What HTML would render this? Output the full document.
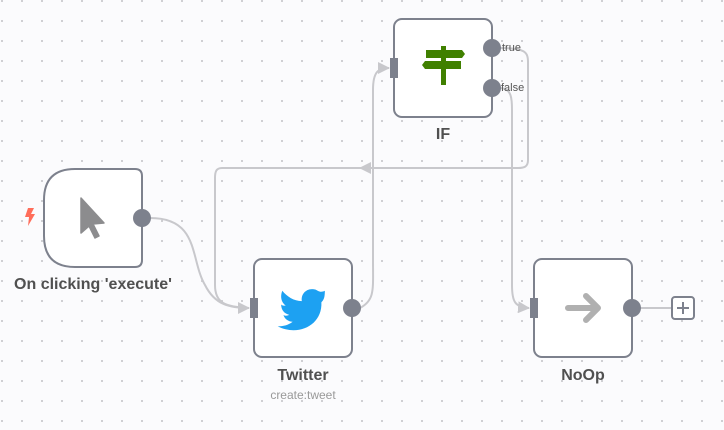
<!DOCTYPE html>
<html><head><meta charset="utf-8"><style>
html,body{margin:0;padding:0}
body{width:724px;height:430px;overflow:hidden;background:#fbfbfd;background-image:radial-gradient(circle,#c8c8cc 0.9px,transparent 1.2px);background-size:20px 20px;background-position:-8px -9px;position:relative;font-family:"Liberation Sans",sans-serif}
svg{position:absolute;left:0;top:0}
.lbl{position:absolute;text-align:center;color:#505050;font-size:16px;font-weight:bold;width:200px}
.sub{position:absolute;text-align:center;color:#999;font-size:12px;width:200px}
</style></head><body>
<svg width="724" height="430" viewBox="0 0 724 430">
<defs><marker id="a" markerWidth="12" markerHeight="12" refX="11" refY="6" orient="auto" markerUnits="userSpaceOnUse"><path d="M0,0 L12,6 L0,12 z" fill="#c8c8cc"/></marker></defs>
<g fill="none" stroke="#c8c8cc" stroke-width="2">
<path d="M150,218 C200,218 190,260 205,285 C215,305 230,308 249,308" marker-end="url(#a)"/>
<path d="M360,308 C375,300 373,290 373,260 L373,90 C373,72 378,68 389,68" marker-end="url(#a)"/>
<path d="M500,48 C525,48 528,52 528,62 L528,160 C528,167 524,168 518,168 L222,168 C216,168 215,172 215,178 L215,285 C215,303 225,307 249,308"/>
<path d="M374,168 L360,168" marker-end="url(#a)"/>
<path d="M500,88 C512,88 512,100 512,110 L512,285 C512,302 515,307 529,308" marker-end="url(#a)"/>
<path d="M640,308 L672,308"/>
</g>
<g fill="#fff" stroke="#7d818d" stroke-width="2">
<path d="M75,169 L135,169 Q142,169 142,176 L142,260 Q142,267 135,267 L75,267 Q44,267 44,236 L44,200 Q44,169 75,169 Z"/>
<rect x="254" y="259" width="98" height="98" rx="8"/>
<rect x="394" y="19" width="98" height="98" rx="8"/>
<rect x="534" y="259" width="98" height="98" rx="8"/>
<rect x="672" y="297" width="22" height="22" rx="3"/>
</g>
<g fill="#7d818d">
<circle cx="142" cy="218" r="9"/>
<circle cx="352" cy="308" r="9"/>
<circle cx="492" cy="48" r="9"/>
<circle cx="492" cy="88" r="9"/>
<circle cx="632" cy="308" r="9"/>
<rect x="250" y="298" width="8" height="20"/>
<rect x="390" y="58" width="8" height="20"/>
<rect x="530" y="298" width="8" height="20"/>
</g>
<path d="M683,302 V314 M677,308 H689" stroke="#7d818d" stroke-width="2"/>
<path d="M28,208 L34,208 L31,214 L35,214 L28,226 L29,217 L25,217 Z" fill="#ff6d5a"/>
<path d="M81,198 L81,233 L89,226 L95,238 L99,236 L93,224 L104,223 Z" fill="#8c8c8e" stroke="#8c8c8e" stroke-linejoin="round" stroke-width="1.5"/>
<g transform="translate(303,308) scale(1.15) translate(-303,-308)">
<path d="M322,293 C318,295 316,293 314,292 C306,290 301,296 302,302 C295,302 289,298 285,293 C283,298 284,303 288,306 C286,306 285,306 284,305 C284,310 287,313 291,314 C289,315 287,315 286,314 C287,318 291,320 294,320 C290,323 286,324 281,324 C299,333 320,323 319,303 C321,301 322,299 322,293 Z" fill="#1da1f2"/>
</g>
<g fill="#408000">
<rect x="441" y="46" width="5" height="39"/>
<path d="M426,50 L462,50 L465,54 L462,58 L426,58 Z"/>
<path d="M461,61 L425,61 L422,65 L425,69 L461,69 Z"/>
</g>
<path d="M568,308 L598,308 M586,296 L598,308 L586,320" fill="none" stroke="#b0b0b0" stroke-width="6" stroke-linecap="round" stroke-linejoin="round"/>
<text x="502" y="51" font-family="Liberation Sans" font-size="11" fill="#555">true</text>
<text x="501" y="91" font-family="Liberation Sans" font-size="11" fill="#555">false</text>
</svg>
<div class="lbl" style="left:-7px;top:276px">On clicking 'execute'</div>
<div class="lbl" style="left:203px;top:367px">Twitter</div>
<div class="sub" style="left:203px;top:388px">create:tweet</div>
<div class="lbl" style="left:343px;top:126px">IF</div>
<div class="lbl" style="left:483px;top:367px">NoOp</div>
</body></html>
